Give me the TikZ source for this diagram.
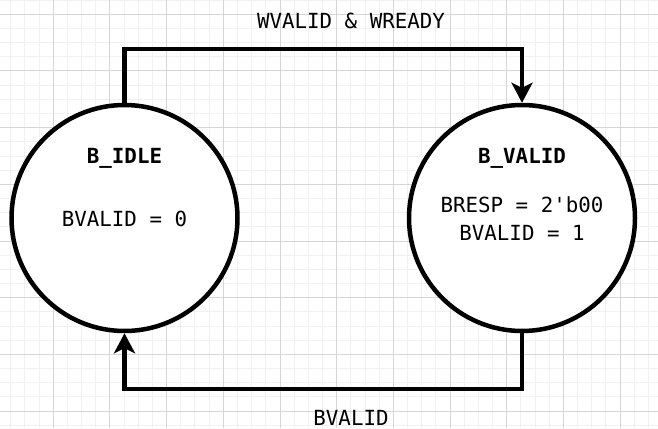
\documentclass[tikz,border=0pt]{standalone}
\usepackage{fontspec}
\setmonofont{DejaVu Sans Mono}
\usetikzlibrary{arrows.meta}
\definecolor{gridminor}{HTML}{F1F1F1}
\definecolor{gridmajor}{HTML}{D6D6D6}
\tikzset{
  statecircle/.style={circle, draw=black, line width=4.5pt, fill=white, minimum size=226pt, inner sep=0pt},
  txt/.style={font=\ttfamily\fontsize{20.8pt}{25pt}\selectfont, anchor=base, inner sep=0pt},
  btxt/.style={txt, font=\ttfamily\bfseries\fontsize{20.8pt}{25pt}\selectfont},
  edge/.style={draw=black, line width=4.5pt, -{Stealth[length=20pt,width=21pt,inset=5pt]}},
}
\begin{document}
\begin{tikzpicture}[x=1pt,y=-1pt]
\useasboundingbox (0,0) rectangle (658,428);
\fill[white] (0,0) rectangle (658,428);
% minor grid
\foreach \i in {0,...,47} {
  \draw[gridminor, line width=1pt] ({-3.4+14.17*\i},0) -- ({-3.4+14.17*\i},428);
}
\foreach \j in {0,...,31} {
  \draw[gridminor, line width=1pt] (0,{0.13+14.17*\j}) -- (658,{0.13+14.17*\j});
}
% major grid
\foreach \i in {1,...,12} {
  \draw[gridmajor, line width=1pt] ({-3.4+56.68*\i},0) -- ({-3.4+56.68*\i},428);
}
\foreach \j in {0,...,7} {
  \draw[gridmajor, line width=1pt] (0,{14.3+56.68*\j}) -- (658,{14.3+56.68*\j});
}
% states
\node[statecircle] (L) at (124.5,218) {};
\node[statecircle] (R) at (522,218) {};
\node[btxt] (Lname) at (124.5,163.3) {B\_IDLE};
\node[txt] (Lout) at (124.5,226) {BVALID = 0};
\node[btxt] (Rname) at (522,163.3) {B\_VALID};
\node[txt] (Rout1) at (522,212.7) {BRESP = 2'b00};
\node[txt] (Rout2) at (522,240) {BVALID = 1};
% connectors
\coordinate (t1) at (124.5,49);
\coordinate (t2) at (522,49);
\coordinate (b1) at (522,388.8);
\coordinate (b2) at (124.5,388.8);
\draw[edge] (L.north) -- (t1) -- (t2) -- (R.north);
\draw[edge] (R.south) -- (b1) -- (b2) -- (L.south);
\node[txt] (toplab) at (351,28.3) {WVALID \& WREADY};
\node[txt] (botlab) at (351,425) {BVALID};
\end{tikzpicture}
\end{document}
